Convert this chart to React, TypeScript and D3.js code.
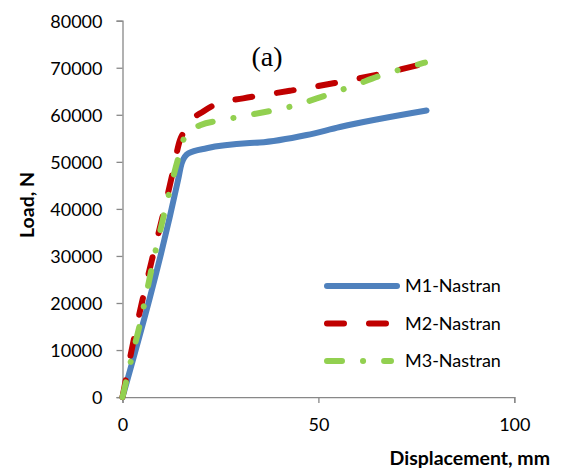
import * as d3 from "d3";
import { useEffect, useRef } from "react";

// displacement (mm) / load (N)
const m1Disp = [0, 14.2, 15.1, 16.8, 21.5, 32.5, 35, 47, 55.5, 77.6];
const m1Load = [0, 46200, 49700, 51800, 52900, 54000, 54100, 55700, 57400, 60900];

const m2Disp = [0, 2.7, 4.9, 7.4, 10, 12.6, 14.7, 15.5, 17, 20.6, 24, 30.8, 42.7, 53.8, 64.8, 77.6];
const m2Load = [0, 11500, 19900, 28800, 37600, 46900, 54700, 56100, 58300, 60700, 62300, 63500, 65100, 66700, 68500, 71000];

const m3Disp = [0, 2.5, 4.5, 6.3, 7.9, 10, 11.9, 14.1, 15.9, 17.7, 19.8, 25.7, 32.5, 42.7, 50.4, 58.9, 66.5, 75, 77.2];
const m3Load = [0, 8900, 15700, 22800, 29100, 36700, 43300, 50400, 55400, 56800, 57800, 58900, 60000, 61700, 63700, 66200, 68500, 70600, 71100];

const xTicks = [0, 50, 100];
const yTicks = [0, 10000, 20000, 30000, 40000, 50000, 60000, 70000, 80000];

const seriesNames = ["M1-Nastran", "M2-Nastran", "M3-Nastran"];

function LoadChart() {
    const svgRef = useRef<SVGSVGElement>(null);

    useEffect(() => {
        const svg = d3.select(svgRef.current);
        svg.selectAll("*").remove();

        const width = 563;
        const height = 472;
        const margin = { top: 20.7, right: 48.7, bottom: 74.9, left: 122.5 };
        const font = "Lato, 'Open Sans', sans-serif";

        const x = d3.scaleLinear().domain([0, 100]).range([margin.left, width - margin.right]);
        const y = d3.scaleLinear().domain([0, 80000]).range([height - margin.bottom, margin.top]);

        const series = [
            { name: seriesNames[0], disp: m1Disp, load: m1Load, color: "#4f81bd", dash: null },
            { name: seriesNames[1], disp: m2Disp, load: m2Load, color: "#c00000", dash: "17,25" },
            { name: seriesNames[2], disp: m3Disp, load: m3Load, color: "#92d050", dash: "15,21,0.1,21" },
        ];

        // axes
        const axisColor = "#888";
        const xAxis = svg
            .append("g")
            .attr("transform", `translate(0, ${y(0)})`)
            .call(d3.axisBottom(x).tickValues(xTicks).tickSize(6).tickPadding(12));
        const yAxis = svg
            .append("g")
            .attr("transform", `translate(${x(0)}, 0)`)
            .call(d3.axisLeft(y).tickValues(yTicks).tickFormat(d3.format("d")).tickSize(6).tickPadding(14));

        [xAxis, yAxis].forEach(g => {
            g.select(".domain").attr("stroke", axisColor).attr("stroke-width", 1.3);
            g.selectAll(".tick line").attr("stroke", axisColor).attr("stroke-width", 1.3);
            g.selectAll(".tick text")
                .attr("fill", "#000")
                .style("font-family", font)
                .style("font-size", "18px");
        });
        xAxis.selectAll(".tick text").attr("dy", "0.9em");
        yAxis.selectAll(".tick text").attr("dy", "0.36em");

        // lines
        const line = d3
            .line<[number, number]>()
            .x(d => x(d[0]))
            .y(d => y(d[1]))
            .curve(d3.curveMonotoneX);

        series.forEach(s => {
            const pts = s.disp.map((d, i) => [d, s.load[i]] as [number, number]);
            svg
                .append("path")
                .datum(pts)
                .attr("d", line)
                .attr("fill", "none")
                .attr("stroke", s.color)
                .attr("stroke-width", 6)
                .attr("stroke-linecap", "round")
                .attr("stroke-linejoin", "round")
                .attr("stroke-dasharray", s.dash);
        });

        // legend
        const legend = svg.append("g").attr("transform", "translate(327, 286)");
        series.forEach((s, i) => {
            const row = legend.append("g").attr("transform", `translate(0, ${i * 37.5})`);
            row.append("line")
                .attr("x1", 0)
                .attr("x2", i === 0 ? 70 : 64)
                .attr("stroke", s.color)
                .attr("stroke-width", 6)
                .attr("stroke-linecap", "round")
                .attr("stroke-dasharray", s.dash);
            row.append("text")
                .attr("x", 78)
                .attr("dy", "0.36em")
                .style("font-family", font)
                .style("font-size", "18px")
                .text(s.name);
        });

        // title
        svg.append("text")
            .attr("x", 267)
            .attr("y", 66)
            .attr("text-anchor", "middle")
            .style("font-family", "'Liberation Serif', 'Times New Roman', serif")
            .style("font-size", "28px")
            .text("(a)");

        // axis labels
        svg.append("text")
            .attr("x", 550)
            .attr("y", 465)
            .attr("text-anchor", "end")
            .style("font-family", font)
            .style("font-weight", "bold")
            .style("font-size", "19.5px")
            .text("Displacement, mm");

        svg.append("text")
            .attr("transform", "rotate(-90)")
            .attr("x", -205)
            .attr("y", 34)
            .attr("text-anchor", "middle")
            .style("font-family", font)
            .style("font-weight", "bold")
            .style("font-size", "19.5px")
            .text("Load, N");
    }, []);

    return (
        <svg
            ref={svgRef}
            width={563}
            height={472}
            style={{ position: "absolute", left: 0, top: 0, background: "#fff" }}
        />
    );
}

export default function App() {
    return <LoadChart />;
}
